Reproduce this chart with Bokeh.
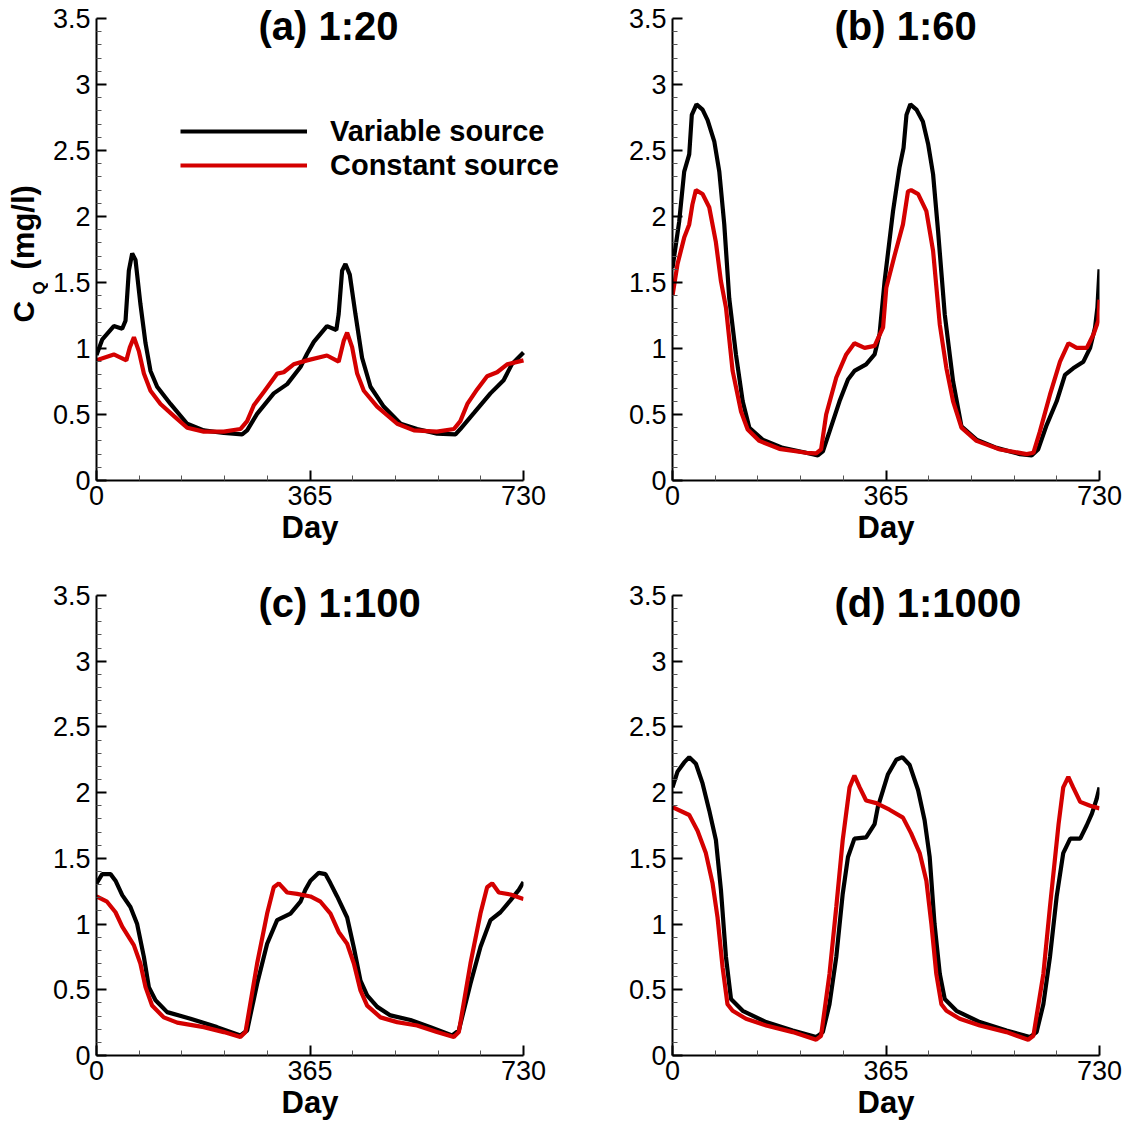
import math
from bokeh.plotting import figure
from bokeh.models import (Range1d, FixedTicker, CustomJSTickFormatter, Label,
                          Legend, LegendItem, Title)
from bokeh.layouts import row, column
from bokeh.embed import file_html
from bokeh.resources import INLINE

# ---------------- data ----------------
X_TICKS = [0, 365, 730]
X_MINOR = [73, 146, 219, 292, 438, 511, 584, 657]
Y_TICKS = [0, 0.5, 1, 1.5, 2, 2.5, 3, 3.5]
Y_MINOR = [0.1, 0.2, 0.3, 0.4, 0.6, 0.7, 0.8, 0.9, 1.1, 1.2, 1.3, 1.4,
           1.6, 1.7, 1.8, 1.9, 2.1, 2.2, 2.3, 2.4, 2.6, 2.7, 2.8, 2.9,
           3.1, 3.2, 3.3, 3.4]

titles = ["(a) 1:20", "(b) 1:60", "(c) 1:100", "(d) 1:1000"]
series_names = ["Variable source", "Constant source"]
x_label = "Day"
y_label_main = "C"
y_label_sub = "Q"
y_label_unit = "(mg/l)"

# (a) 1:20
a_var_day = [0, 10, 29.6, 43.9, 49.6, 55.3, 61, 66.7, 75, 83.8, 92.3, 103.7, 126.5, 155, 183.4,
             217.7, 249, 257.5, 274.5, 303, 326, 348.7, 360, 371.5, 394, 410, 414, 419.9,
             425.6, 433, 442.7, 454, 468.4, 491, 520, 548, 582.4, 613.7, 622, 645, 673.5,
             696, 710, 730]
a_var_val = [0.95, 1.07, 1.17, 1.15, 1.21, 1.59, 1.72, 1.67, 1.34, 1.04, 0.83, 0.71, 0.58, 0.43,
             0.38, 0.36, 0.35, 0.38, 0.505, 0.66, 0.73, 0.86, 0.96, 1.05, 1.17, 1.14, 1.26,
             1.59, 1.64, 1.56, 1.26, 0.93, 0.71, 0.56, 0.43, 0.39, 0.355, 0.35, 0.39, 0.51,
             0.66, 0.76, 0.88, 0.97]
a_con_day = [0, 29.6, 51, 57, 64, 72.4, 81, 92.3, 109.4, 132, 155, 183.4, 217.7, 246, 257.5,
             269, 286, 309, 320, 337, 360, 394, 414, 422.8, 428.5, 437, 445.6, 457, 479.8,
             514, 542.6, 582, 611, 622, 634, 650.7, 667.8, 684.9, 702, 730]
a_con_val = [0.91, 0.955, 0.91, 1.01, 1.085, 0.98, 0.81, 0.68, 0.58, 0.49, 0.40, 0.37, 0.37,
             0.39, 0.45, 0.57, 0.67, 0.81, 0.82, 0.88, 0.91, 0.947, 0.90, 1.06, 1.12, 1.01,
             0.81, 0.68, 0.56, 0.43, 0.38, 0.37, 0.39, 0.45, 0.58, 0.69, 0.79, 0.82, 0.88, 0.91]

# (b) 1:60
b_var_day = [0, 11.4, 20, 28.6, 33, 41, 51.4, 60, 71.4, 80, 88.5, 97, 108.5, 120, 131.4, 154,
             188.5, 228.4, 248.4, 257, 268.4, 285.5, 300, 311, 331, 345.5, 354, 362.6, 377,
             388, 395, 400, 406.6, 417, 428, 437, 445.5, 454, 465.4, 479.7, 494, 519.7, 554,
             594, 614, 625, 639.6, 656.8, 671, 685, 702.5, 714, 722.4, 726.4, 730]
b_var_val = [1.61, 1.96, 2.34, 2.47, 2.77, 2.85, 2.81, 2.73, 2.57, 2.34, 1.94, 1.38, 0.955,
             0.60, 0.40, 0.31, 0.247, 0.21, 0.19, 0.22, 0.37, 0.60, 0.765, 0.83, 0.88, 0.955,
             1.11, 1.51, 2.04, 2.37, 2.52, 2.77, 2.85, 2.81, 2.72, 2.55, 2.32, 1.89, 1.26,
             0.75, 0.41, 0.31, 0.247, 0.20, 0.19, 0.235, 0.42, 0.60, 0.80, 0.85, 0.90, 1.005,
             1.16, 1.31, 1.60]
b_con_day = [0, 8.6, 20, 28.6, 34, 40, 51.4, 62.8, 74, 82.8, 91.4, 102.8, 117, 128.5, 148.5,
             182.7, 228.4, 245.6, 254, 262.7, 280, 297, 311, 328.4, 345.5, 360, 365.5, 380,
             394, 402.6, 408, 420, 434, 445.5, 457, 468.3, 479.7, 494, 519.7, 560, 605.4, 617,
             628, 645.3, 662.5, 677, 691, 708.2, 720, 728, 730]
b_con_val = [1.40, 1.64, 1.84, 1.94, 2.09, 2.20, 2.17, 2.07, 1.81, 1.51, 1.31, 0.83, 0.525,
             0.386, 0.30, 0.24, 0.21, 0.205, 0.235, 0.50, 0.78, 0.955, 1.04, 1.005, 1.02, 1.16,
             1.46, 1.71, 1.94, 2.19, 2.20, 2.17, 2.04, 1.74, 1.18, 0.85, 0.60, 0.40, 0.30,
             0.235, 0.20, 0.21, 0.37, 0.65, 0.90, 1.04, 1.005, 1.005, 1.11, 1.21, 1.37]

# (c) 1:100
c_var_day = [0, 9.7, 24, 32.5, 44, 58, 69.5, 81, 89.5, 100.9, 120.8, 160.7, 206, 246, 257.5,
             274.6, 291.7, 308.8, 331.6, 348.7, 357, 365.8, 380, 391.5, 400, 411.4, 428.5,
             440, 451.3, 462.7, 480, 502.6, 536.8, 571, 608, 619.4, 639.3, 656.4, 673.5,
             690.6, 707.7, 722, 730]
c_var_val = [1.31, 1.38, 1.38, 1.33, 1.22, 1.13, 1.00, 0.75, 0.52, 0.42, 0.33, 0.28, 0.216,
             0.152, 0.19, 0.546, 0.85, 1.03, 1.08, 1.17, 1.26, 1.33, 1.39, 1.38, 1.31, 1.21,
             1.05, 0.82, 0.57, 0.457, 0.37, 0.305, 0.27, 0.216, 0.152, 0.19, 0.546, 0.825,
             1.03, 1.09, 1.18, 1.26, 1.32]
c_con_day = [0, 18, 32.5, 44, 63.8, 75, 83.8, 95, 115, 138, 183.5, 217.7, 246, 254.7, 274.6,
             291.7, 303, 311.7, 326, 343, 365.8, 383, 400, 414, 428.5, 440, 451.3, 462.7,
             485.5, 514, 548, 582, 610.8, 619.4, 639.3, 656.4, 667.8, 676.4, 687.8, 707.7, 730]
c_con_val = [1.21, 1.17, 1.09, 0.98, 0.84, 0.70, 0.52, 0.38, 0.29, 0.25, 0.216, 0.178, 0.14,
             0.178, 0.70, 1.08, 1.28, 1.31, 1.24, 1.23, 1.21, 1.17, 1.08, 0.94, 0.85, 0.70,
             0.495, 0.38, 0.29, 0.254, 0.228, 0.178, 0.14, 0.178, 0.70, 1.08, 1.28, 1.31,
             1.24, 1.225, 1.19]

# (d) 1:1000
d_var_day = [0, 8.6, 20, 28.6, 40, 51.4, 62.8, 74.2, 82.8, 91.4, 100, 120, 160, 205.6, 245.6,
             257, 268.4, 280, 291, 300, 311, 331, 345.5, 351, 360, 368.4, 382.6, 393, 405.5,
             419.8, 431, 439.7, 448, 457, 465.4, 485.4, 525.4, 571, 611, 622.5, 634, 645.3,
             656.8, 668, 680, 697, 708, 717, 725, 730]
d_var_val = [2.04, 2.16, 2.23, 2.27, 2.22, 2.07, 1.865, 1.64, 1.26, 0.75, 0.43, 0.34, 0.254,
             0.19, 0.14, 0.178, 0.39, 0.75, 1.23, 1.51, 1.65, 1.66, 1.76, 1.89, 2.02, 2.14,
             2.25, 2.27, 2.21, 2.02, 1.79, 1.51, 1.00, 0.62, 0.43, 0.34, 0.254, 0.19, 0.14,
             0.178, 0.39, 0.75, 1.21, 1.54, 1.65, 1.65, 1.75, 1.84, 1.95, 2.04]
d_con_day = [0, 28.6, 42.8, 57, 68.5, 77, 85.7, 94, 102.8, 125.6, 160, 205.6, 245.6, 254,
             268.4, 280, 291, 302.7, 311, 320, 331, 348.4, 371, 394, 408, 422.6, 434, 442.6,
             451, 459.7, 468.3, 491, 525.4, 571, 608, 617, 634, 645.3, 660, 668, 676.7, 685,
             697, 714, 730]
d_con_val = [1.89, 1.83, 1.71, 1.54, 1.31, 1.05, 0.67, 0.39, 0.34, 0.28, 0.228, 0.178, 0.12,
             0.15, 0.62, 1.13, 1.64, 2.04, 2.13, 2.04, 1.94, 1.92, 1.87, 1.81, 1.69, 1.54,
             1.33, 1.00, 0.62, 0.39, 0.34, 0.28, 0.228, 0.178, 0.12, 0.15, 0.62, 1.13, 1.76,
             2.04, 2.12, 2.04, 1.93, 1.90, 1.88]

FONT = "Liberation Sans"
BLACK = "#000000"
RED = "#d40000"
PX_PER_DAY = 427 / 730.0
TOP_EXTRA = 12  # frame reaches a little above 3.5 so that the titles are not clipped


def make_panel(title, vd, vv, cd, cc, data_h, bl, bt, bb, br, extra_right=0,
               legend=False, day_as_title=False):
    px_per_unit = data_h / 3.5
    p = figure(frame_width=427 + extra_right, frame_height=data_h + TOP_EXTRA,
               x_range=Range1d(0, 730 + extra_right / PX_PER_DAY),
               y_range=Range1d(0, 3.5 + TOP_EXTRA / px_per_unit),
               output_backend="svg", toolbar_location=None,
               min_border_left=bl, min_border_right=br,
               min_border_top=bt - TOP_EXTRA, min_border_bottom=bb)
    p.outline_line_color = None
    p.xgrid.visible = False
    p.ygrid.visible = False
    p.background_fill_color = "white"
    p.border_fill_color = "white"

    p.xaxis.ticker = FixedTicker(ticks=X_TICKS, minor_ticks=X_MINOR)
    p.yaxis.ticker = FixedTicker(ticks=Y_TICKS, minor_ticks=Y_MINOR)
    p.xaxis.formatter = CustomJSTickFormatter(code="return tick.toString();")
    p.yaxis.formatter = CustomJSTickFormatter(code="return tick.toString();")
    p.xaxis.bounds = (0, 730)
    p.yaxis.bounds = (0, 3.5)
    for ax in (p.xaxis, p.yaxis):
        ax.axis_line_width = 2
        ax.axis_line_color = "black"
        ax.major_tick_in = 10
        ax.major_tick_out = 0
        ax.minor_tick_in = 5
        ax.minor_tick_out = 0
        ax.major_tick_line_width = 2
        ax.major_tick_line_color = "black"
        ax.minor_tick_line_width = 1
        ax.minor_tick_line_color = "#555555"
        ax.major_label_text_font = FONT
        ax.major_label_text_font_size = "27px"
        ax.major_label_text_color = "black"
    p.xaxis.major_label_standoff = 5
    p.yaxis.major_label_standoff = 6
    if day_as_title:
        # centred under the 0..730 axis, not under the (wider) frame
        t = Title(text=x_label, align="left", offset=309.5 - 96 - 28.5,
                  text_font=FONT, text_font_style="bold", text_font_size="31px",
                  text_color="black", standoff=0)
        p.add_layout(t, "below")
    else:
        p.xaxis.axis_label = x_label
        p.xaxis.axis_label_text_font = FONT
        p.xaxis.axis_label_text_font_style = "bold"
        p.xaxis.axis_label_text_font_size = "31px"
        p.xaxis.axis_label_text_color = "black"
        p.xaxis.axis_label_standoff = 2

    rv = p.line(vd, vv, line_color=BLACK, line_width=4.2)
    rc = p.line(cd, cc, line_color=RED, line_width=4.2)

    p.add_layout(Label(x=277, y=3.36 + 11 / px_per_unit, text=title, text_font=FONT,
                       text_font_style="bold", text_font_size="40px",
                       text_align="left", text_baseline="alphabetic",
                       text_color="black"))

    if legend:
        lg = Legend(items=[LegendItem(label=series_names[0], renderers=[rv]),
                           LegendItem(label=series_names[1], renderers=[rc])],
                    location=(84, 298), orientation="vertical",
                    glyph_width=127, glyph_height=34, label_height=34,
                    label_standoff=23, spacing=0, padding=0, margin=0,
                    border_line_color=None, background_fill_alpha=0,
                    label_text_font=FONT, label_text_font_style="bold",
                    label_text_font_size="29px", label_text_color="black")
        p.add_layout(lg)
    return p


# narrow figure that carries the rotated y-axis title of panel (a)
YL_W, YL_H = 48, 560
ylab = figure(frame_width=YL_W, frame_height=YL_H, x_range=Range1d(0, YL_W),
              y_range=Range1d(0, YL_H), output_backend="svg", toolbar_location=None,
              x_axis_location=None, y_axis_location=None,
              min_border_left=0, min_border_right=0, min_border_top=0, min_border_bottom=0)
ylab.outline_line_color = None
ylab.xgrid.visible = False
ylab.ygrid.visible = False
common = dict(angle=math.pi / 2, text_font=FONT, text_font_style="bold",
              text_align="left", text_baseline="alphabetic", text_color="black")
ylab.add_layout(Label(x=23.0, y=YL_H - 320 + 4, text=y_label_main,
                      text_font_size="30px", **common))
ylab.add_layout(Label(x=39.0, y=YL_H - 292 + 4, text=y_label_sub,
                      text_font_size="17px", **common))
ylab.add_layout(Label(x=23.0, y=YL_H - 266 + 3, text=y_label_unit,
                      text_font_size="31px", **common))

pa = make_panel(titles[0], a_var_day, a_var_val, a_con_day, a_con_val, 462,
                bl=48, bt=18, bb=80, br=21, extra_right=40, legend=True,
                day_as_title=True)
pb = make_panel(titles[1], b_var_day, b_var_val, b_con_day, b_con_val, 462,
                bl=88, bt=18, bb=80, br=31)
pc = make_panel(titles[2], c_var_day, c_var_val, c_con_day, c_con_val, 460,
                bl=96, bt=35, bb=60, br=61)
pd = make_panel(titles[3], d_var_day, d_var_val, d_con_day, d_con_val, 460,
                bl=88, bt=35, bb=60, br=31)

layout = column(row(ylab, pa, pb), row(pc, pd))
open("out.html", "w").write(file_html(layout, INLINE))
